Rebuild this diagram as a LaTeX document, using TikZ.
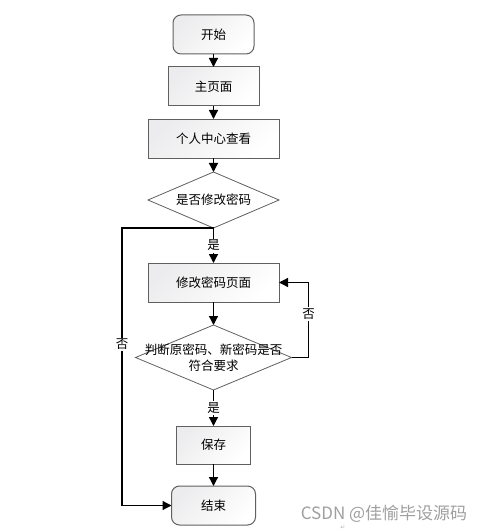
\documentclass[tikz,border=0pt]{standalone}
\usepackage{fontspec}
\setmainfont{Noto Sans CJK SC}
\newfontfamily\symfont{DejaVu Sans}
\usetikzlibrary{positioning,shapes.geometric,arrows.meta}

\begin{document}
\begin{tikzpicture}[
		x=1pt, y=1pt,
		font=\fontsize{12.5}{16}\selectfont,
		box/.style={draw=gray!75!black, line width=1pt, minimum height=39pt, inner sep=0pt, outer sep=0pt,
			top color=blue!5!gray!14!white, bottom color=white, shading angle=45},
		terminal/.style={box, rounded corners=8pt},
		decision/.style={draw=gray!75!black, line width=0.8pt, fill=white, diamond, aspect=2.3, inner sep=0pt, outer sep=0pt},
		flow/.style={-{Triangle[length=9pt,width=9pt]}, line width=1.3pt},
		lbl/.style={fill=white, inner sep=1.5pt}
		]
		\useasboundingbox (0,0) rectangle (494,-532);
		% Start
		\node[terminal, minimum width=81pt] (start) at (213.5,-34.5) {开始};
		% Home page
		\node[box, minimum width=91pt, below=13pt of start] (home) {主页面};
		% Personal centre
		\node[box, minimum width=131pt, below=13pt of home] (profile) {个人中心查看};
		% Change password?
		\node[decision, minimum width=131pt, minimum height=56pt, below=14pt of profile] (ask) {是否修改密码};
		% Password page
		\node[box, minimum width=131pt, below=35pt of ask] (edit) {修改密码页面};
		% Check old and new password
		\node[decision, minimum width=156pt, minimum height=65pt, below=23pt of edit] (judge) {};
		\node[align=center, inner sep=0pt] (judgetext) at (judge) {判断原密码、新密码是否\\符合要求};
		% Save
		\node[box, minimum width=74pt, minimum height=38pt, below=36pt of judge] (save) {保存};
		% End
		\node[terminal, minimum width=84pt, below=22pt of save] (end) {结束};

		% Turning points
		\coordinate (leftturn) at ([xshift=-91.5pt]ask.south);
		\coordinate (loopturn) at ([xshift=17pt]judge.east);

		% Arrows
		\draw[flow] (start) -- (home);
		\draw[flow] (home) -- (profile);
		\draw[flow] (profile) -- (ask);
		\draw[flow] (ask) -- node[lbl] (yes1) {是} (edit);
		\draw[flow] (edit) -- (judge);
		\draw[flow] (judge) -- node[lbl] (yes2) {是} (save);
		\draw[flow] (save) -- (end);
		\draw[flow] (ask.south) -- (leftturn) |- node[lbl, pos=0.21] (no1) {否} (end.west);
		\draw[flow] (judge.east) -- (loopturn) |- node[lbl, pos=0.29] (no2) {否} (edit.east);

		% Watermark
		\node[text=gray!75, font=\fontsize{17}{20}\selectfont, inner sep=0pt] (mark) at (384,-514) {CSDN @佳愉毕设源码};
		\node[text=gray!60, font=\symfont\fontsize{6}{7}\selectfont, inner sep=0pt] (ret) at (343,-528) {↵};
	\end{tikzpicture}
\end{document}
